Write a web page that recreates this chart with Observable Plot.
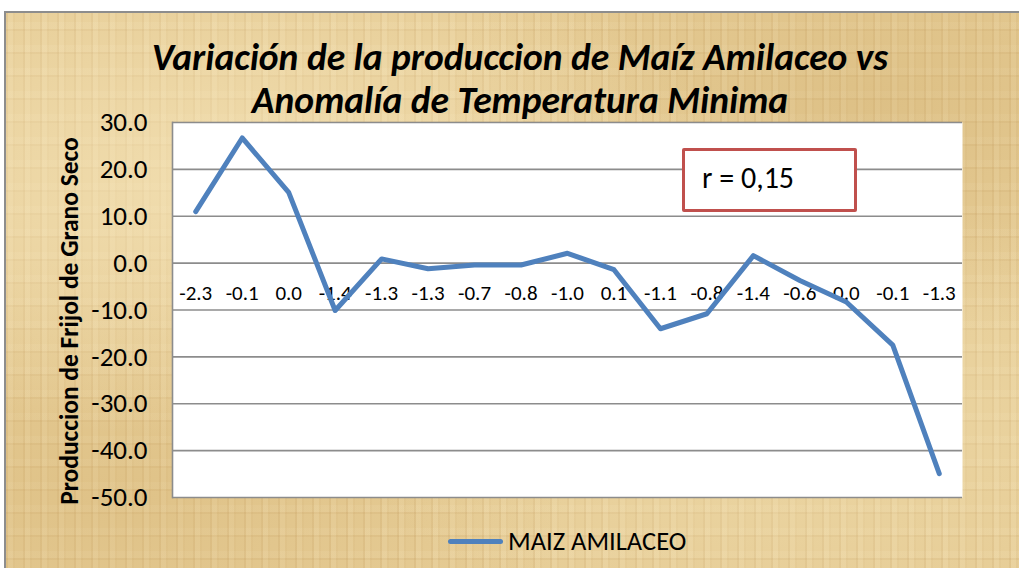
<!DOCTYPE html>
<html>
<head>
<meta charset="utf-8">
<script src="https://cdn.jsdelivr.net/npm/d3@7"></script>
<script src="https://cdn.jsdelivr.net/npm/@observablehq/plot@0.6"></script>
<style>
  html, body { margin:0; padding:0; background:#fff; }
  #wrap { position:relative; width:1019px; height:568px; overflow:hidden; background:#fff; font-family: Carlito, Lato, "Noto Sans", sans-serif; }
  #area {
    position:absolute; left:4px; top:11px; width:1030px; height:570px;
    border-left:2px solid #8d8d8d; border-top:2px solid #8d8d8d;
    background-color:#e6cc95;
    background-image:
      radial-gradient(ellipse at 20% 30%, rgba(245,228,185,0.7), rgba(245,228,185,0) 45%),
      radial-gradient(ellipse at 75% 70%, rgba(240,222,175,0.6), rgba(240,222,175,0) 40%),
      radial-gradient(ellipse at 85% 15%, rgba(205,170,105,0.35), rgba(205,170,105,0) 35%),
      radial-gradient(ellipse at 10% 85%, rgba(210,175,110,0.35), rgba(210,175,110,0) 35%),
      repeating-linear-gradient(90deg, rgba(190,150,90,0.18) 0 2px, rgba(255,245,215,0.12) 2px 7px, rgba(190,150,90,0.08) 7px 9px, rgba(255,245,215,0) 9px 17px),
      repeating-linear-gradient(0deg, rgba(190,150,90,0.15) 0 2px, rgba(255,245,215,0.1) 2px 9px, rgba(255,245,215,0) 9px 23px);
  }
  #plot { position:absolute; left:0; top:0; }
  .title { position:absolute; left:0; width:1040px; text-align:center; font-weight:bold; font-style:italic; font-size:37.5px; line-height:44px; color:#000; white-space:nowrap; }
  #ytitle { position:absolute; left:69px; top:321px; transform:translate(-50%,-50%) rotate(-90deg); font-weight:bold; font-size:25.5px; white-space:nowrap; color:#000; }
  #rbox { position:absolute; left:682px; top:148px; width:169px; height:58px; background:#fff; border:3.5px solid #c0504d; border-radius:2px; }
  #rbox span { position:absolute; left:17px; top:8px; font-size:30px; color:#000; }
  #legend { position:absolute; left:448px; top:525px; display:flex; align-items:center; }
  #legend .sw { width:55px; height:5px; background:#4f81bd; border-radius:3px; margin-right:5px; }
  #legend .lt { font-size:26.5px; color:#000; }
</style>
</head>
<body>
<div id="wrap">
  <div id="area"></div>
  <div id="plot"></div>
  <div class="title" style="top:35px;">Variación de la produccion de Maíz Amilaceo vs</div>
  <div class="title" style="top:78px;">Anomalía de Temperatura Minima</div>
  <div id="ytitle">Produccion de Frijol de Grano Seco</div>
  <div id="rbox"><span>r = 0,15</span></div>
  <div id="legend"><div class="sw"></div><div class="lt">MAIZ AMILACEO</div></div>
</div>
<script>
const categories = ["-2.3","-0.1","0.0","-1.4","-1.3","-1.3","-0.7","-0.8","-1.0","0.1","-1.1","-0.8","-1.4","-0.6","0.0","-0.1","-1.3"];
const maizAmilaceo = [11.0, 26.7, 15.1, -10.1, 0.9, -1.2, -0.4, -0.4, 2.1, -1.4, -14.0, -10.8, 1.6, -3.7, -8.3, -17.5, -44.9];
const yTicks = [-50, -40, -30, -20, -10, 0, 10, 20, 30];
const seriesName = "MAIZ AMILACEO";

const data = categories.map((c, i) => ({ i, c, v: maizAmilaceo[i] }));

const chart = Plot.plot({
  width: 1019,
  height: 568,
  marginLeft: 172,
  marginRight: 57,
  marginTop: 122,
  marginBottom: 71,
  style: { background: "transparent", color: "#000", fontFamily: "Carlito, Lato, 'Noto Sans', sans-serif", overflow: "visible" },
  x: { type: "point", domain: d3.range(categories.length), padding: 0.5, round: false, axis: null },
  y: { domain: [-50, 30], axis: null },
  marks: [
    Plot.frame({ fill: "white", stroke: null }),
    Plot.ruleY(yTicks, { stroke: "#8c8c8c", strokeWidth: 1.6 }),
    Plot.frame({ anchor: "left", stroke: "#8c8c8c", strokeWidth: 1.6 }),
    Plot.axisY({ ticks: yTicks, tickFormat: d => d.toFixed(1), tickSize: 0, tickPadding: 25, fontSize: 27, label: null, fill: "#000" }),
    Plot.text(data, { x: "i", y: () => 0, text: "c", dy: 30, fontSize: 21, fill: "#000" }),
    Plot.line(data, { x: "i", y: "v", stroke: "#4f81bd", strokeWidth: 5, strokeLinejoin: "round" })
  ]
});
document.getElementById("plot").appendChild(chart);
</script>
</body>
</html>
